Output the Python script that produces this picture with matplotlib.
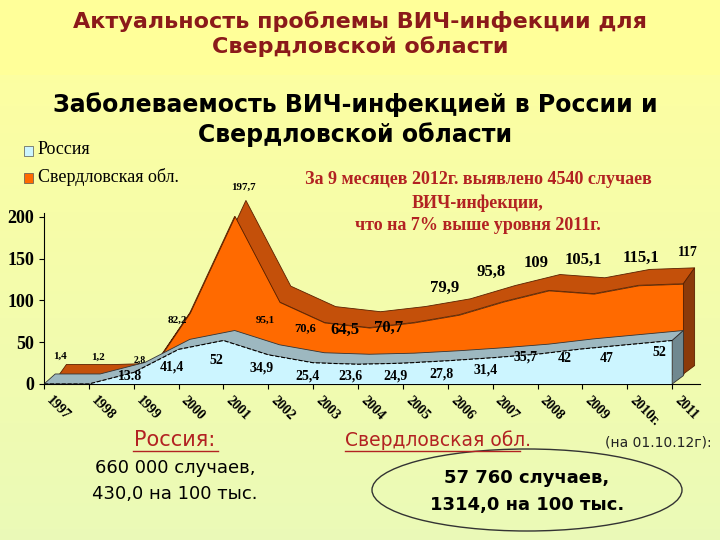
import numpy as np
import matplotlib
matplotlib.use("Agg")
import matplotlib.pyplot as plt
from matplotlib.patches import Ellipse, Rectangle

years = np.arange(1997, 2012)
year_labels = [str(y) for y in years]
year_labels[13] = "2010г."
sverdl = [1.4, 1.2, 2.8, 82.2, 197.7, 95.1, 70.6, 64.5, 70.7, 79.9, 95.8, 109, 105.1, 115.1, 117]
russia = [0, 0, 13.8, 41.4, 52, 34.9, 25.4, 23.6, 24.9, 27.8, 31.4, 35.7, 42, 47, 52]
sverdl_txt = ["1,4", "1,2", "2,8", "82,2", "197,7", "95,1", "70,6", "64,5", "70,7", "79,9", "95,8", "109", "105,1", "115,1", "117"]
russia_txt = ["", "", "13.8", "41,4", "52", "34,9", "25,4", "23,6", "24,9", "27,8", "31,4", "35,7", "42", "47", "52"]

# label positions in pixels (x, y from top)
sv_pos = [(60, 356), (98, 357), (140, 360), (177, 320), (243, 187), (265, 320), (305, 328), (345, 330),
          (389, 328), (445, 288), (491, 272), (536, 263), (583, 260), (641, 258), (688, 253)]
sv_size = [8, 8, 7, 8, 8, 8, 9, 12, 12, 12, 12, 12, 12, 12, 10]
ru_pos = [None, None, (130, 377), (172, 367), (216, 361), (262, 368), (307, 376), (350, 376),
          (395, 376), (441, 374), (486, 370), (525, 357), (565, 359), (607, 359), (659, 353)]

fig = plt.figure(figsize=(7.2, 5.4), dpi=100)

# background
bg = fig.add_axes([0, 0, 1, 1])
grad = np.zeros((540, 1, 3))
for i in range(540):
    t = i / 539
    grad[i, 0] = (1 - 0.08 * t, 1 - 0.02 * t, 0.62 + 0.1 * t)
grad[:75, 0] = (1, 1, 0.6)
bg.imshow(grad, aspect="auto", extent=[0, 720, 540, 0])
bg.set_xlim(0, 720)
bg.set_ylim(540, 0)
bg.axis("off")

ax = fig.add_axes([44 / 720, 1 - 384 / 540, 656 / 720, 234 / 540])
ax.patch.set_alpha(0)
ax.set_xlim(1997, 2011.62)
ax.set_ylim(0, 280)

sv = np.array(sverdl)
ru = np.array(russia)
dx1, dy1 = 0.25, 12
dx2, dy2 = 0.5, 22
# Sverdlovsk (back row)
ax.fill(np.r_[years + dx1, (years + dx2)[::-1]], np.r_[sv + 3, (sv + dy2)[::-1]],
        color="#C4500A", ec="#5a2000", lw=0.6, zorder=1)
ax.fill_between(years + dx1, dy1, sv + 3, color="#FF6A00", ec="#5a2000", lw=0.6, zorder=2)
ax.fill([2011 + dx1, 2011 + dx2, 2011 + dx2, 2011 + dx1], [dy1, dy1 + 10, sv[-1] + dy2, sv[-1] + 3],
        color="#8B3A0A", ec="#5a2000", lw=0.6, zorder=2)
# Russia (front row)
ax.fill(np.r_[years, (years + dx1)[::-1]], np.r_[ru, (ru + dy1)[::-1]],
        color="#9DB8C0", ec="#333333", lw=0.6, zorder=3)
ax.fill_between(years, 0, ru, color="#CCF5FF", ec="none", zorder=4)
ax.plot(years, ru, color="black", lw=0.8, ls="--", zorder=5)
ax.fill([2011, 2011 + dx1, 2011 + dx1, 2011], [0, 10, ru[-1] + dy1, ru[-1]],
        color="#708890", ec="#333333", lw=0.6, zorder=4)

for s in ["top", "right"]:
    ax.spines[s].set_visible(False)
ax.spines["left"].set_bounds(0, 205)
ax.set_yticks([0, 50, 100, 150, 200])
ax.set_xticks(years)
ax.set_xticklabels(year_labels, rotation=-45, ha="left", va="top",
                   family="Liberation Serif", fontweight="bold", fontsize=10)
for t in ax.get_yticklabels():
    t.set_family("Liberation Serif")
    t.set_fontweight("bold")
    t.set_fontsize(13)

def px(x, y):
    return x / 720, 1 - y / 540

for i, t in enumerate(sverdl_txt):
    fig.text(*px(*sv_pos[i]), t, ha="center", va="center", family="Liberation Serif",
             fontweight="bold", fontsize=sv_size[i], zorder=10)
for i, t in enumerate(russia_txt):
    if t:
        fig.text(*px(*ru_pos[i]), t, ha="center", va="center", family="Liberation Serif",
                 fontweight="bold", fontsize=10, zorder=10)

# titles
dred = "#8B1A1A"
fig.text(*px(360, 22), "Актуальность проблемы ВИЧ-инфекции для", ha="center", va="center",
         fontsize=16, fontweight="bold", color=dred)
fig.text(*px(360, 47), "Свердловской области", ha="center", va="center",
         fontsize=16, fontweight="bold", color=dred)
fig.text(*px(355, 105), "Заболеваемость ВИЧ-инфекцией в России и", ha="center", va="center",
         fontsize=17, fontweight="bold")
fig.text(*px(355, 135), "Свердловской области", ha="center", va="center",
         fontsize=17, fontweight="bold")

# legend
fig.patches.append(Rectangle(px(24, 156), 9 / 720, 10 / 540, transform=fig.transFigure,
                             fc="#CCF5FF", ec="#555555", lw=0.5))
fig.patches.append(Rectangle(px(24, 183), 9 / 720, 10 / 540, transform=fig.transFigure,
                             fc="#FF6A00", ec="#555555", lw=0.5))
fig.text(*px(38, 150), "Россия", va="center", family="Liberation Serif", fontsize=13)
fig.text(*px(38, 177), "Свердловская обл.", va="center", family="Liberation Serif", fontsize=13)

red = "#B22222"
for y, s in [(180, "За 9 месяцев 2012г. выявлено 4540 случаев"), (203, "ВИЧ-инфекции,"),
             (225, "что на 7% выше уровня 2011г.")]:
    fig.text(*px(478, y), s, ha="center", va="center", family="Liberation Serif",
             fontsize=13, fontweight="bold", color=red)

# bottom block
fig.text(*px(175, 440), "Россия:", ha="center", va="center", fontsize=15, color=red)
fig.lines.append(plt.Line2D([133 / 720, 218 / 720], [1 - 451 / 540] * 2, transform=fig.transFigure,
                            color=red, lw=1))
fig.text(*px(175, 468), "660 000 случаев,", ha="center", va="center", fontsize=13)
fig.text(*px(175, 494), "430,0 на 100 тыс.", ha="center", va="center", fontsize=13)
t_sv = fig.text(*px(345, 440), "Свердловская обл.", ha="left", va="center", fontsize=13.5, color=red)
fig.lines.append(plt.Line2D([345 / 720, 520 / 720], [1 - 451 / 540] * 2, transform=fig.transFigure,
                            color=red, lw=1))
fig.text(*px(712, 442), "(на 01.10.12г):", ha="right", va="center", fontsize=10, color="#222222")
fig.patches.append(Ellipse(px(527, 490), 310 / 720, 82 / 540, transform=fig.transFigure,
                           fc="none", ec="#333333", lw=1))
fig.text(*px(527, 478), "57 760 случаев,", ha="center", va="center", fontsize=13, fontweight="bold")
fig.text(*px(527, 505), "1314,0 на 100 тыс.", ha="center", va="center", fontsize=13, fontweight="bold")

fig.savefig("out.png", dpi=100)
